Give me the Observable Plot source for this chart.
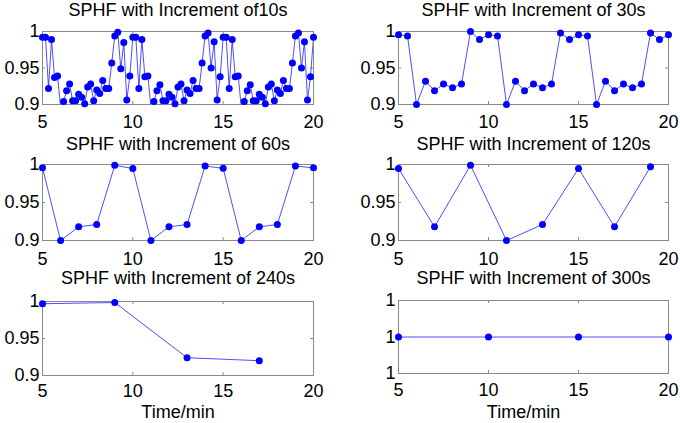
<!DOCTYPE html>
<html>
<head>
<meta charset="utf-8">
<script src="https://cdn.jsdelivr.net/npm/d3@7"></script>
<script src="https://cdn.jsdelivr.net/npm/@observablehq/plot@0.6"></script>
<style>
  body { margin: 0; background: #fff; }
  #wrap { position: relative; width: 680px; height: 423px; overflow: hidden; background: #fff; }
  .panel { position: absolute; }
</style>
</head>
<body>
<div id="wrap"></div>
<script>
// ---- Data ----
const increments = [10, 30, 60, 120, 240, 300];   // seconds
const titles = [
  "SPHF with Increment of10s",
  "SPHF with Increment of 30s",
  "SPHF with Increment of 60s",
  "SPHF with Increment of 120s",
  "SPHF with Increment of 240s",
  "SPHF with Increment of 300s"
];
const startMin = 5;
const xTicks = [5, 10, 15, 20];
const yTicks = [0.9, 0.95, 1];
const yTickLabels = ["0.9", "0.95", "1"];
const yTicks300 = [0.99999, 1, 1.00001];
const yTickLabels300 = ["1", "1", "1"];
const xLabel = "Time/min";

const sphf10 = [
  0.992, 0.992, 0.922, 0.989, 0.937, 0.939, 0.897, 0.904, 0.919, 0.928,
  0.905, 0.905, 0.914, 0.910, 0.901, 0.924, 0.928, 0.905, 0.920, 0.915,
  0.933, 0.922, 0.922, 0.957, 0.994, 0.999, 0.949, 0.985, 0.906, 0.939,
  0.992, 0.992, 0.922, 0.989, 0.938, 0.939, 0.897, 0.904, 0.919, 0.927,
  0.905, 0.905, 0.914, 0.910, 0.901, 0.924, 0.928, 0.905, 0.920, 0.915,
  0.933, 0.922, 0.922, 0.957, 0.994, 0.998, 0.950, 0.986, 0.906, 0.938,
  0.992, 0.992, 0.922, 0.989, 0.938, 0.939, 0.897, 0.904, 0.919, 0.927,
  0.905, 0.905, 0.914, 0.910, 0.901, 0.924, 0.928, 0.905, 0.920, 0.915,
  0.933, 0.922, 0.922, 0.957, 0.994, 0.998, 0.950, 0.986, 0.906, 0.938,
  0.992
];
const sphf30 = [
  0.9955, 0.994, 0.900, 0.932, 0.919, 0.928, 0.923, 0.928, 1.000, 0.989,
  0.9955, 0.994, 0.900, 0.932, 0.919, 0.928, 0.923, 0.928, 0.998, 0.989,
  0.9955, 0.994, 0.900, 0.932, 0.919, 0.928, 0.923, 0.928, 0.998, 0.989,
  0.9955
];
const sphf60 = [
  0.9956, 0.900, 0.918, 0.921, 0.999, 0.9947, 0.900, 0.918, 0.921, 0.998,
  0.995, 0.900, 0.918, 0.921, 0.998, 0.9956
];
const sphf120 = [0.9947, 0.918, 0.999, 0.900, 0.921, 0.9947, 0.918, 0.997];
const sphf240 = [0.997, 0.9986, 0.924, 0.920];
const sphf300 = [1, 1, 1, 1];

const seriesList = [sphf10, sphf30, sphf60, sphf120, sphf240, sphf300];

// ---- Layout (pixel positions of each subplot) ----
const layout = [
  {left: 0,   top: 0,   w: 340, h: 130, ml: 42, mr: 27, mt: 31, mb: 26, xpad: 11, tdy: -20.8},
  {left: 340, top: 0,   w: 340, h: 130, ml: 58, mr: 12, mt: 31, mb: 26, xpad: 11, tdy: -20.8},
  {left: 0,   top: 130, w: 340, h: 140, ml: 42, mr: 27, mt: 34, mb: 30, xpad: 12, tdy: -19.8},
  {left: 340, top: 130, w: 340, h: 140, ml: 58, mr: 12, mt: 34, mb: 30, xpad: 12, tdy: -19.8},
  {left: 0,   top: 270, w: 340, h: 153, ml: 42, mr: 27, mt: 31, mb: 48, xpad: 9,  tdy: -23.5, ldy: 36.5, ldx: 0},
  {left: 340, top: 270, w: 340, h: 153, ml: 58, mr: 12, mt: 30, mb: 50, xpad: 10, tdy: -21.8, ldy: 38.5, ldx: -10}
];

const FONT = "'Liberation Sans', Arial, Helvetica, sans-serif";
const FS = 18;
const BOX = "#8a8a8a";
const BLUE = "#0000ff";

const wrap = document.getElementById("wrap");

seriesList.forEach((vals, idx) => {
  const L = layout[idx];
  const inc = increments[idx];
  const data = vals.map((v, i) => ({t: startMin + i * inc / 60, v}));
  const is300 = idx === 5;
  const yT = is300 ? yTicks300 : yTicks;
  const yL = is300 ? yTickLabels300 : yTickLabels;
  const yDomain = [yT[0], yT[yT.length - 1]];
  const fw = L.w - L.ml - L.mr;
  const fh = L.h - L.mt - L.mb;
  const tickLen = 3;

  const marks = [
    Plot.frame({stroke: BOX, strokeWidth: 1}),
    // inner ticks (MATLAB style) bottom/top
    Plot.tickX(xTicks, {x: d => d, stroke: BOX, insetTop: fh - tickLen}),
    Plot.tickX(xTicks, {x: d => d, stroke: BOX, insetBottom: fh - tickLen}),
    // inner ticks left/right
    Plot.tickY(yT, {y: d => d, stroke: BOX, insetRight: fw - tickLen}),
    Plot.tickY(yT, {y: d => d, stroke: BOX, insetLeft: fw - tickLen}),
    Plot.axisX({ticks: xTicks, anchor: "bottom", tickSize: 0, tickPadding: L.xpad,
                fontSize: FS, label: null, tickFormat: d => String(d)}),
    Plot.axisY({ticks: yT, anchor: "left", tickSize: 0, tickPadding: 3,
                fontSize: FS, label: null, tickFormat: d => yL[yT.indexOf(d)]}),
    Plot.line(data, {x: "t", y: "v", stroke: BLUE, strokeWidth: 0.7, clip: true}),
    Plot.dot(data, {x: "t", y: "v", r: 3.5, fill: BLUE, stroke: "none",
                    filter: d => d.v >= yDomain[0] && d.v <= yDomain[1]}),
    Plot.text([titles[idx]], {frameAnchor: "top", dy: L.tdy, fontSize: FS,
                              lineAnchor: "middle", textAnchor: "middle", fill: "#000"})
  ];
  if (idx >= 4) {
    marks.push(Plot.text([xLabel], {frameAnchor: "bottom", dy: L.ldy, dx: L.ldx, fontSize: FS,
                                    lineAnchor: "middle", textAnchor: "middle", fill: "#000"}));
  }

  const chart = Plot.plot({
    width: L.w,
    height: L.h,
    marginLeft: L.ml,
    marginRight: L.mr,
    marginTop: L.mt,
    marginBottom: L.mb,
    style: {fontFamily: FONT, fontSize: FS + "px", background: "transparent", overflow: "visible"},
    x: {domain: [5, 20]},
    y: {domain: yDomain},
    marks
  });
  chart.classList.add("panel");
  chart.style.left = L.left + "px";
  chart.style.top = L.top + "px";
  wrap.appendChild(chart);
});
</script>
</body>
</html>
